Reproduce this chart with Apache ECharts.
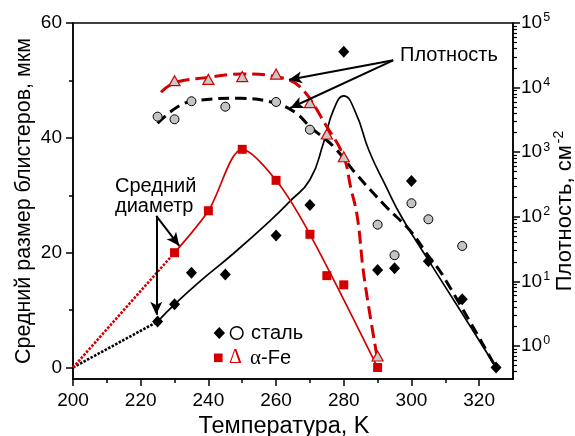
<!DOCTYPE html>
<html><head><meta charset="utf-8">
<script src="https://cdn.jsdelivr.net/npm/echarts@6/dist/echarts.min.js"></script>
<style>html,body{margin:0;padding:0;background:#fff}#c{width:575px;height:436px}</style>
</head><body><div id="c"></div>
<script>
// ---- data ----
const steelSizeT = [225,230,235,245,260,270,280,290,295,300,305,315,325];
const steelSize  = [8,11,16.5,16.2,23,28.3,55,17,17.3,32.5,18.5,11.9,0];
const feSizeT = [230,240,250,260,270,275,280,290];
const feSize  = [20,27.3,38,32.6,23.2,16,14.4,0];
const steelDensT = [225,230,235,245,260,270,290,295,300,305,315];
const steelDens  = [3550,3230,6140,5060,5990,2230,75.5,25.4,162,91.5,35.3];
const feDensT = [230,240,250,260,270,275,280,290];
const feDens  = [12800,13400,14800,16200,5840,1910,850,0.7];
// fitted curves as drawn in the picture
const steelSizeFitT = [225,230,237.5,247.5,258.5,264,270,274,277,280,283.5,287.5,292.5,297,305,315,325];
const steelSizeFit  = [8,11,15,19.9,25.7,28.9,32.7,39.1,44.9,47.3,44.4,37.7,31.5,26.3,18.7,9.4,0];
const feSizeFitT = [230,240,250,260,270,290];
const feSizeFit  = [20,27.3,38,32.6,23.2,0];
const steelDensFitT = [225,234.5,249.5,260,266,270,277,283.5,292.5,299.5,304.5,309.5,325];
const steelDensFit  = [2800,6050,6820,5710,4000,2480,1220,470,143,62,27,11.8,0.46];
const feDensFitT = [226,230,240,250,260,267,275,280,282,284,286,290];
const feDensFit  = [8450,11900,14400,16250,14760,10330,2480,850,292,100,11.8,0.61];
// dotted extrapolations to the origin
const steelExtrapT = [200,225];
const steelExtrap  = [0,8];
const feExtrapT = [200,230];
const feExtrap  = [0,20];
// ticks
const xTicks = [200,220,240,260,280,300,320];
const xMinor = [210,230,250,270,290,310];
const yTicks = [0,20,40,60];
const yMinor = [10,30,50];
const rTicks = [1,10,100,1000,10000,100000];
const rMinor = [0.4,0.5,0.6,0.7,0.8,0.9,2,3,4,5,6,7,8,9,20,30,40,50,60,70,80,90,
  200,300,400,500,600,700,800,900,2000,3000,4000,5000,6000,7000,8000,9000,
  20000,30000,40000,50000,60000,70000,80000,90000];
// annotation texts
const txtDensity = 'Плотность';
const txtDiam1 = 'Средний';
const txtDiam2 = 'диаметр';
const legSteel = 'сталь';
const xName = 'Температура, K';
const yName = 'Средний размер блистеров, мкм';

const RED = '#d40000';
const FONT = 'Liberation Sans';
const pairs = (xs, ys) => xs.map((x, i) => [x, ys[i]]);

const chart = echarts.init(document.getElementById('c'), null, {renderer: 'canvas'});
const axLine = {show: true, onZero: false, lineStyle: {color: '#000', width: 1.5}};
const noLine = {show: false, onZero: false};
const option = {
  animation: false,
  grid: {left: 73, right: 62, top: 23, bottom: 57, outerBoundsMode: 'none', containLabel: false,
         show: true, borderColor: '#000', borderWidth: 1.5, backgroundColor: 'transparent'},
  xAxis: [
    {type: 'value', min: 200, max: 330, position: 'bottom',
     axisLine: axLine, splitLine: {show: false},
     axisTick: {show: true, length: 7, lineStyle: {width: 1.5, color: '#000'}, customValues: xTicks},
     axisLabel: {customValues: xTicks, margin: 12, color: '#000', fontSize: 19, fontFamily: FONT},
     name: xName, nameLocation: 'middle', nameGap: 36, nameMoveOverlap: false,
     nameTextStyle: {color: '#000', fontSize: 23.5, fontFamily: FONT, padding: [0, 18, 0, 0]}},
    {type: 'value', min: 200, max: 330, position: 'bottom',
     axisLine: noLine, splitLine: {show: false}, axisLabel: {show: false},
     axisTick: {show: true, length: 4, lineStyle: {width: 1.5, color: '#000'}, customValues: xMinor}}
  ],
  yAxis: [
    {type: 'value', min: -2, max: 60, position: 'left',
     axisLine: axLine, splitLine: {show: false},
     axisTick: {show: true, length: 7, lineStyle: {width: 1.5, color: '#000'}, customValues: yTicks},
     axisLabel: {customValues: yTicks, margin: 11, color: '#000', fontSize: 19, fontFamily: FONT},
     name: yName, nameLocation: 'middle', nameGap: 38, nameRotate: 90, nameMoveOverlap: false,
     nameTextStyle: {color: '#000', fontSize: 21.5, fontFamily: FONT}},
    {type: 'value', min: -2, max: 60, position: 'left',
     axisLine: noLine, splitLine: {show: false}, axisLabel: {show: false},
     axisTick: {show: true, length: 4, lineStyle: {width: 1.5, color: '#000'}, customValues: yMinor}},
    {type: 'log', logBase: 10, min: 0.308, max: 100000, position: 'right',
     axisLine: axLine, splitLine: {show: false},
     axisTick: {show: true, length: 7, lineStyle: {width: 1.5, color: '#000'}, customValues: rTicks},
     axisLabel: {customValues: rTicks, margin: 8, color: '#000', fontFamily: FONT,
       formatter: v => '{a|10}{b|' + Math.round(Math.log10(v)) + '}',
       rich: {a: {fontSize: 19, fontFamily: FONT, color: '#000'},
              b: {fontSize: 12.5, fontFamily: FONT, color: '#000', verticalAlign: 'top', padding: [0, 0, 10, 1]}}},
     name: '{a|Плотность, см}{b|-2}', nameLocation: 'middle', nameGap: 39, nameRotate: 90, nameMoveOverlap: false,
     nameTextStyle: {padding: [0, 20, 0, 0],
                     rich: {a: {fontSize: 22, fontFamily: FONT, color: '#000'},
                            b: {fontSize: 14, fontFamily: FONT, color: '#000', verticalAlign: 'top', padding: [0, 0, 12, 2]}}}},
    {type: 'log', logBase: 10, min: 0.308, max: 100000, position: 'right',
     axisLine: noLine, splitLine: {show: false}, axisLabel: {show: false},
     axisTick: {show: true, length: 4, lineStyle: {width: 1.2, color: '#000'}, customValues: rMinor}}
  ],
  series: [
    {type: 'line', name: 'steelExtrap', data: pairs(steelExtrapT, steelExtrap), showSymbol: false, symbol: 'none',
     lineStyle: {color: '#000', width: 2.6, type: [2.5, 1.5]}, z: 2},
    {type: 'line', name: 'feExtrap', data: pairs(feExtrapT, feExtrap), showSymbol: false, symbol: 'none',
     lineStyle: {color: RED, width: 2.6, type: [2.5, 1.5]}, z: 2},
    {type: 'line', name: 'steelSizeFit', data: pairs(steelSizeFitT, steelSizeFit), symbol: 'none', smooth: 0.5,
     lineStyle: {color: '#000', width: 1.7}, z: 2,
     markLine: {silent: true, symbol: ['none', 'arrow'], symbolSize: [9, 13], label: {show: false},
       lineStyle: {color: '#000', width: 2, type: 'solid'},
       data: [
         [{coord: [294.6, 53.5]}, {coord: [263.8, 50.1]}],
         [{coord: [294.6, 53.5]}, {coord: [264.2, 45.2]}],
         [{coord: [224.6, 26.4]}, {coord: [224.6, 9.2]}],
         [{coord: [224.6, 26.4]}, {coord: [231.4, 21.2]}]
       ]}},
    {type: 'line', name: 'feSizeFit', data: pairs(feSizeFitT, feSizeFit), symbol: 'none', smooth: 0.3,
     lineStyle: {color: RED, width: 1.7}, z: 2},
    {type: 'line', name: 'steelDensFit', yAxisIndex: 2, data: pairs(steelDensFitT, steelDensFit), symbol: 'none', smooth: 0.4,
     lineStyle: {color: '#000', width: 3, type: [11, 6]}, z: 2},
    {type: 'line', name: 'feDensFit', yAxisIndex: 2, data: pairs(feDensFitT, feDensFit), symbol: 'none', smooth: 0.4,
     lineStyle: {color: RED, width: 3, type: [13, 6]}, z: 2},
    {type: 'scatter', name: 'steelDens', yAxisIndex: 2, data: pairs(steelDensT, steelDens), symbol: 'circle', symbolSize: 9,
     itemStyle: {color: '#c4c4c4', borderColor: '#000', borderWidth: 1, opacity: 1}, z: 4},
    {type: 'scatter', name: 'feDens', yAxisIndex: 2, data: pairs(feDensT, feDens), symbol: 'triangle', symbolSize: [11, 10],
     itemStyle: {color: '#c8c8c8', borderColor: RED, borderWidth: 1.2, opacity: 1}, z: 4},
    {type: 'scatter', name: 'steelSize', data: pairs(steelSizeT, steelSize), symbol: 'diamond', symbolSize: [11, 12],
     itemStyle: {color: '#000', opacity: 1}, z: 5},
    {type: 'scatter', name: 'feSize', data: pairs(feSizeT, feSize), symbol: 'rect', symbolSize: 9,
     itemStyle: {color: RED, opacity: 1}, z: 5}
  ],
  graphic: [
    {type: 'text', x: 400, y: 55, style: {text: txtDensity, font: '20px "Liberation Sans"', fill: '#000', verticalAlign: 'middle'}},
    {type: 'text', x: 115, y: 186, style: {text: txtDiam1, font: '20px "Liberation Sans"', fill: '#000', verticalAlign: 'middle'}},
    {type: 'text', x: 115, y: 206, style: {text: txtDiam2, font: '20px "Liberation Sans"', fill: '#000', verticalAlign: 'middle'}},
    {type: 'polygon', shape: {points: [[219.3, 327], [225, 333], [219.3, 339], [213.6, 333]]}, style: {fill: '#000'}},
    {type: 'circle', shape: {cx: 236.7, cy: 333, r: 6.3}, style: {fill: 'none', stroke: '#000', lineWidth: 1.5}},
    {type: 'text', x: 251, y: 333, style: {text: legSteel, font: '20px "Liberation Sans"', fill: '#000', verticalAlign: 'middle'}},
    {type: 'rect', shape: {x: 214, y: 353.5, width: 8.6, height: 8.6}, style: {fill: RED}},
    {type: 'text', x: 229, y: 358, style: {text: 'Δ', font: '20px "Liberation Serif"', fill: RED, verticalAlign: 'middle'}},
    {type: 'text', x: 250, y: 358, style: {text: '{a|α}{b|-Fe}', verticalAlign: 'middle',
      rich: {a: {fontSize: 21, fontFamily: 'Liberation Serif', fill: '#000'}, b: {fontSize: 20, fontFamily: FONT, fill: '#000'}}}}
  ]
};
chart.setOption(option);
</script>
</body></html>
